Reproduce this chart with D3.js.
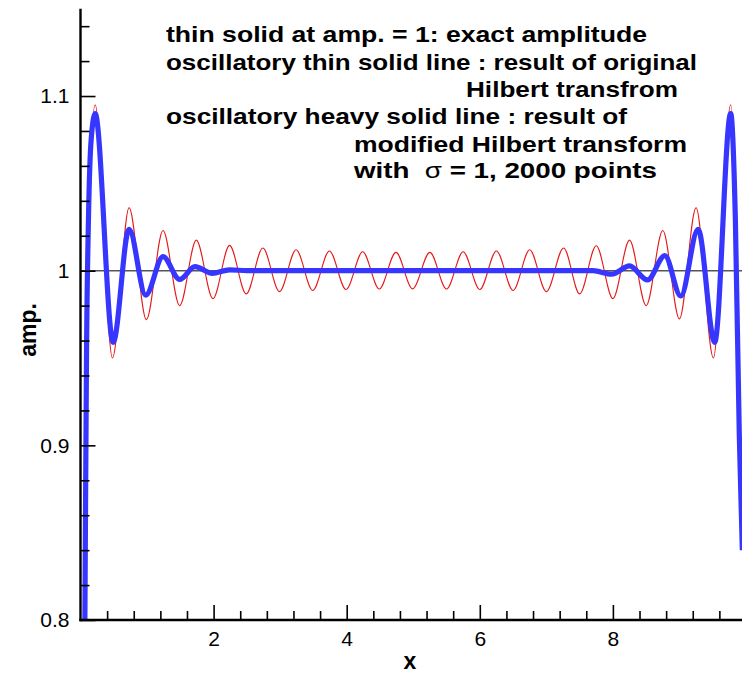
<!DOCTYPE html>
<html>
<head>
<meta charset="utf-8">
<script src="https://cdn.jsdelivr.net/npm/d3@7"></script>
<style>
  body { margin: 0; background: #fff; }
  svg { display: block; }
</style>
</head>
<body>
<svg width="742" height="677"></svg>
<script>
// values
const redX = [0.05, 0.08, 0.11, 0.15, 0.22, 0.48, 0.73, 0.99, 1.24, 1.49, 1.74, 1.99, 2.24, 2.49,
    2.74, 2.99, 3.24, 3.49, 3.74, 3.99, 4.24, 4.49, 4.74, 4.99, 5.25, 5.50, 5.75, 6.00, 6.25, 6.50,
    6.75, 7.00, 7.26, 7.50, 7.75, 8.00, 8.25, 8.50, 8.75, 9.00, 9.25, 9.51, 9.77, 9.84, 9.89, 9.93];
const redY = [0.76, 0.90, 1.00, 1.06, 1.095, 0.950, 1.036, 0.972, 1.023, 0.980, 1.0175, 0.984, 1.0145, 0.9867,
    1.013, 0.988, 1.012, 0.9887, 1.0113, 0.9892, 1.0108, 0.9895, 1.0105, 0.9896, 1.0105, 0.9895, 1.0108, 0.9892, 1.0113, 0.9887,
    1.012, 0.988, 1.013, 0.9867, 1.0143, 0.984, 1.0175, 0.980, 1.023, 0.9724, 1.036, 0.950, 1.095, 1.04, 0.93, 0.85];

const blueX = [0.06, 0.075, 0.09, 0.12, 0.16, 0.22, 0.49, 0.73, 0.98, 1.24, 1.49, 1.72, 1.98, 2.24, 2.5,
    7.7, 7.98, 8.25, 8.52, 8.78, 9.02, 9.28, 9.53, 9.77, 9.84, 9.9, 9.945];
const blueY = [0.76, 0.86, 0.95, 1.03, 1.075, 1.09, 0.959, 1.0237, 0.986, 1.008, 0.995, 1.0023, 0.9985, 1.0005, 1.0,
    1.0, 0.998, 1.0027, 0.9947, 1.0086, 0.9855, 1.0237, 0.959, 1.09, 1.03, 0.905, 0.84];

const exactAmp = 1;

const xTicks = [2, 4, 6, 8];
const xTickLabels = ["2", "4", "6", "8"];
const yTicks = [0.8, 0.9, 1.0, 1.1];
const yTickLabels = ["0.8", "0.9", "1", "1.1"];

const noteLines = [
    "thin solid at amp. = 1: exact amplitude",
    "oscillatory thin solid line : result of original",
    "Hilbert transfrom",
    "oscillatory heavy solid line : result of",
    "modified Hilbert transform",
    "with\u00a0 \u03c3 = 1, 2000 points"
];

var svg = d3.select("svg"),
    width = +svg.attr("width"),
    height = +svg.attr("height");

var mLeft = 80.5, mRight = 741, mTop = 8.7, mBottom = 620;

var x = d3.scaleLinear().domain([0, 9.925]).range([mLeft, mRight]);
var y = d3.scaleLinear().domain([0.8, 1.15]).range([mBottom, mTop]);

svg.append("rect").attr("width", width).attr("height", height).attr("fill", "#fff");

svg.append("defs").append("clipPath").attr("id", "plot")
    .append("rect")
    .attr("x", mLeft).attr("y", mTop)
    .attr("width", mRight - mLeft + 2).attr("height", mBottom - mTop);

var plot = svg.append("g").attr("clip-path", "url(#plot)");

// exact amplitude line
plot.append("line")
    .attr("x1", mLeft).attr("x2", mRight + 2)
    .attr("y1", y(exactAmp)).attr("y2", y(exactAmp))
    .attr("stroke", "#555")
    .attr("stroke-width", 1.5);

var line = d3.line()
    .x(d => x(d[0]))
    .y(d => y(d[1]))
    .curve(d3.curveMonotoneX);

plot.append("path")
    .datum(d3.zip(redX, redY))
    .attr("d", line)
    .attr("fill", "none")
    .attr("stroke", "#e31a1a")
    .attr("stroke-width", 1.1);

plot.append("path")
    .datum(d3.zip(blueX, blueY))
    .attr("d", line)
    .attr("fill", "none")
    .attr("stroke", "#3636ff")
    .attr("stroke-width", 5.2)
    .attr("stroke-linejoin", "round");

// axes, ticks pointing inward
var xMinor = d3.range(0.4, 9.9, 0.4).filter(v => xTicks.every(t => Math.abs(t - v) > 1e-6));
var yMinor = d3.range(0.82, 1.15, 0.02).filter(v => yTicks.every(t => Math.abs(t - v) > 1e-6));

svg.append("g").attr("transform", "translate(0," + mBottom + ")")
    .call(d3.axisBottom(x).tickValues(xMinor).tickSize(-9).tickFormat(""));
svg.append("g").attr("transform", "translate(0," + mBottom + ")")
    .call(d3.axisBottom(x).tickValues(xTicks).tickSize(-15).tickPadding(11)
        .tickFormat((d, i) => xTickLabels[i]));

svg.append("g").attr("transform", "translate(" + mLeft + ",0)")
    .call(d3.axisLeft(y).tickValues(yMinor).tickSize(-9).tickFormat(""));
svg.append("g").attr("transform", "translate(" + mLeft + ",0)")
    .call(d3.axisLeft(y).tickValues(yTicks).tickSize(-15).tickPadding(11)
        .tickFormat((d, i) => yTickLabels[i]));

svg.selectAll(".domain").remove();
svg.selectAll(".tick line").attr("stroke", "#000").attr("stroke-width", 1.6);
svg.selectAll(".tick text")
    .attr("fill", "#000")
    .style("font-family", "'Liberation Sans', Arial, sans-serif")
    .style("font-size", "21px");

svg.append("line")
    .attr("x1", mLeft).attr("x2", mLeft)
    .attr("y1", mTop).attr("y2", mBottom + 1.2)
    .attr("stroke", "#000").attr("stroke-width", 2.4);
svg.append("line")
    .attr("x1", mLeft - 1.2).attr("x2", width)
    .attr("y1", mBottom).attr("y2", mBottom)
    .attr("stroke", "#000").attr("stroke-width", 2.4);

// axis titles
svg.append("text")
    .attr("x", 410).attr("y", 669)
    .attr("text-anchor", "middle")
    .style("font-family", "'Liberation Sans', Arial, sans-serif")
    .style("font-size", "23px")
    .style("font-weight", "bold")
    .text("x");

svg.append("text")
    .attr("transform", "translate(36,330) rotate(-90)")
    .attr("text-anchor", "middle")
    .style("font-family", "'Liberation Sans', Arial, sans-serif")
    .style("font-size", "23px")
    .style("font-weight", "bold")
    .text("amp.");

// note block
var noteX = [166, 166, 466, 166, 354, 354];
var noteY = [42, 70, 97, 124, 152, 178];
var noteW = [481, 531, 212, 461, 333, 303];

var notes = svg.append("g")
    .style("font-family", "'Liberation Sans', Arial, sans-serif")
    .style("font-size", "22px")
    .style("font-weight", "bold");

noteLines.forEach(function(t, i) {
    var txt = notes.append("text")
        .attr("x", noteX[i]).attr("y", noteY[i])
        .attr("textLength", noteW[i])
        .attr("lengthAdjust", "spacingAndGlyphs");
    if (t.indexOf("\u03c3") >= 0) {
        var parts = t.split("\u03c3");
        txt.append("tspan").text(parts[0]);
        txt.append("tspan").style("font-weight", "normal").text("\u03c3");
        txt.append("tspan").text(parts[1]);
    } else {
        txt.text(t);
    }
});
</script>
</body>
</html>
